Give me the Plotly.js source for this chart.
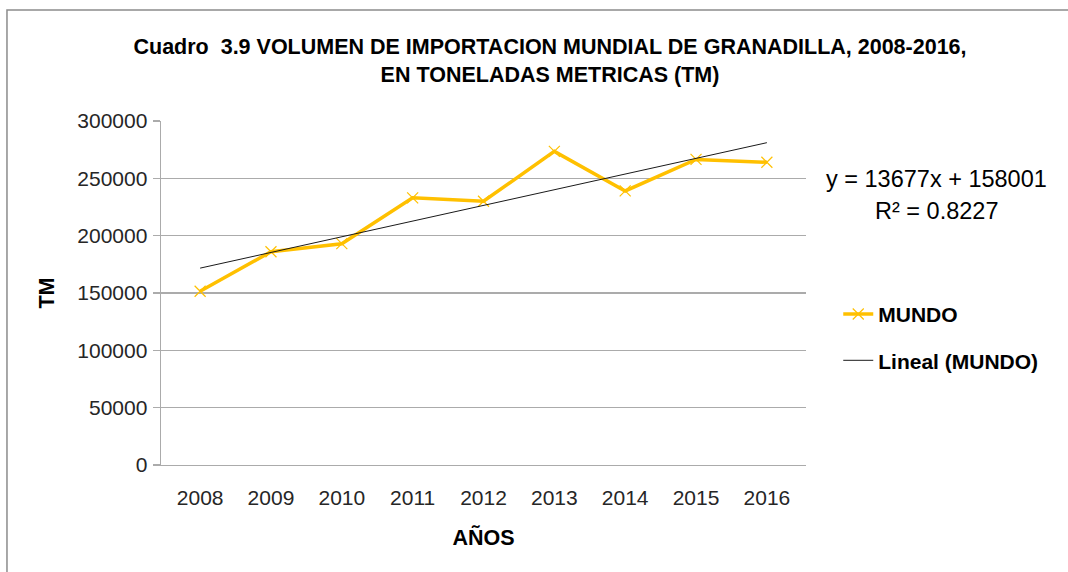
<!DOCTYPE html>
<html>
<head>
<meta charset="utf-8">
<script src="https://cdn.plot.ly/plotly-3.0.1.min.js"></script>
<style>
html,body{margin:0;padding:0;background:#fff;}
#chart{width:1068px;height:572px;}
</style>
</head>
<body>
<div id="chart"></div>
<script>
// ---- data ----
const years = ['2008','2009','2010','2011','2012','2013','2014','2015','2016'];
const mundo = [151500, 186000, 193000, 233000, 230000, 273500, 239000, 266500, 264000];
const trendSlope = 13677;      // from the chart's equation label
const trendIntercept = 158001; // from the chart's equation label
const trendR2 = 0.8227;
const yTicks = [0, 50000, 100000, 150000, 200000, 250000, 300000];

const trendVals = years.map((_, i) => trendSlope * (i + 1) + trendIntercept);

const boldFont = '"Liberation Sans", Arial, sans-serif';
const regular = '"Liberation Sans", Arial, sans-serif';
const gridCol = '#ababab';

const traces = [
  {
    x: years, y: mundo, name: 'MUNDO', type: 'scatter', mode: 'lines+markers',
    line: {color: '#FFC000', width: 3.5},
    marker: {symbol: 'x-thin-open', size: 11, color: '#FFC000', line: {color: '#FFD34D', width: 1.2}},
    legendgroup: 'a', hoverinfo: 'x+y'
  },
  {
    x: years, y: trendVals, name: 'Lineal (MUNDO)', type: 'scatter', mode: 'lines',
    line: {color: '#1a1a1a', width: 1},
    legendgroup: 'b', hoverinfo: 'skip'
  }
];

const layout = {
  width: 1068, height: 572,
  margin: {l: 161, r: 262, t: 121, b: 107},
  paper_bgcolor: '#ffffff', plot_bgcolor: '#ffffff',
  showlegend: true,
  title: {
    text: 'Cuadro  3.9 VOLUMEN DE IMPORTACION MUNDIAL DE GRANADILLA, 2008-2016,<br>EN TONELADAS METRICAS (TM)',
    font: {family: boldFont, size: 21.5, color: '#000', weight: 'bold'},
    x: 0.515, xanchor: 'center', y: 0.905, yanchor: 'top', yref: 'container'
  },
  xaxis: {
    type: 'category',
    showgrid: false, zeroline: false,
    showline: true, linecolor: gridCol, linewidth: 1.4,
    ticks: '', ticklabelstandoff: 13,
    tickfont: {family: regular, size: 21, color: '#262626'},
    title: {text: 'AÑOS', font: {family: boldFont, size: 21.5, color: '#000', weight: 'bold'}, standoff: 22},
    fixedrange: true
  },
  yaxis: {
    range: [0, 300000],
    tickvals: yTicks, ticktext: yTicks.map(String),
    showgrid: true, gridcolor: gridCol, gridwidth: 1.4,
    zeroline: false,
    showline: true, linecolor: gridCol, linewidth: 1.4,
    ticks: 'outside', ticklen: 7, tickcolor: gridCol, tickwidth: 1.4,
    ticklabelstandoff: 1,
    tickfont: {family: regular, size: 21, color: '#262626'},
    title: {text: 'TM', font: {family: boldFont, size: 21.5, color: '#000', weight: 'bold'}, standoff: 16},
    fixedrange: true
  },
  legend: {
    x: 1.05, xanchor: 'left', y: 0.4975, yanchor: 'top',
    traceorder: 'grouped', tracegroupgap: 16,
    font: {family: boldFont, size: 21, color: '#000', weight: 'bold'},
    bgcolor: 'rgba(0,0,0,0)', itemwidth: 30
  },
  annotations: [
    {
      xref: 'paper', yref: 'paper', x: 1.202, y: 0.831, xanchor: 'center', yanchor: 'middle',
      text: 'y = ' + trendSlope + 'x + ' + trendIntercept, showarrow: false,
      font: {family: regular, size: 23.5, color: '#000'}
    },
    {
      xref: 'paper', yref: 'paper', x: 1.202, y: 0.738, xanchor: 'center', yanchor: 'middle',
      text: 'R² = ' + trendR2, showarrow: false,
      font: {family: regular, size: 23.5, color: '#000'}
    }
  ],
  shapes: [
    {type: 'rect', xref: 'paper', yref: 'paper', x0: -0.2388, x1: 1.6, y0: -0.6, y1: 1.3227,
     line: {color: '#8c8c8c', width: 1.5}, layer: 'below'}
  ]
};

Plotly.newPlot('chart', traces, layout, {displayModeBar: false, staticPlot: true});
</script>
</body>
</html>
